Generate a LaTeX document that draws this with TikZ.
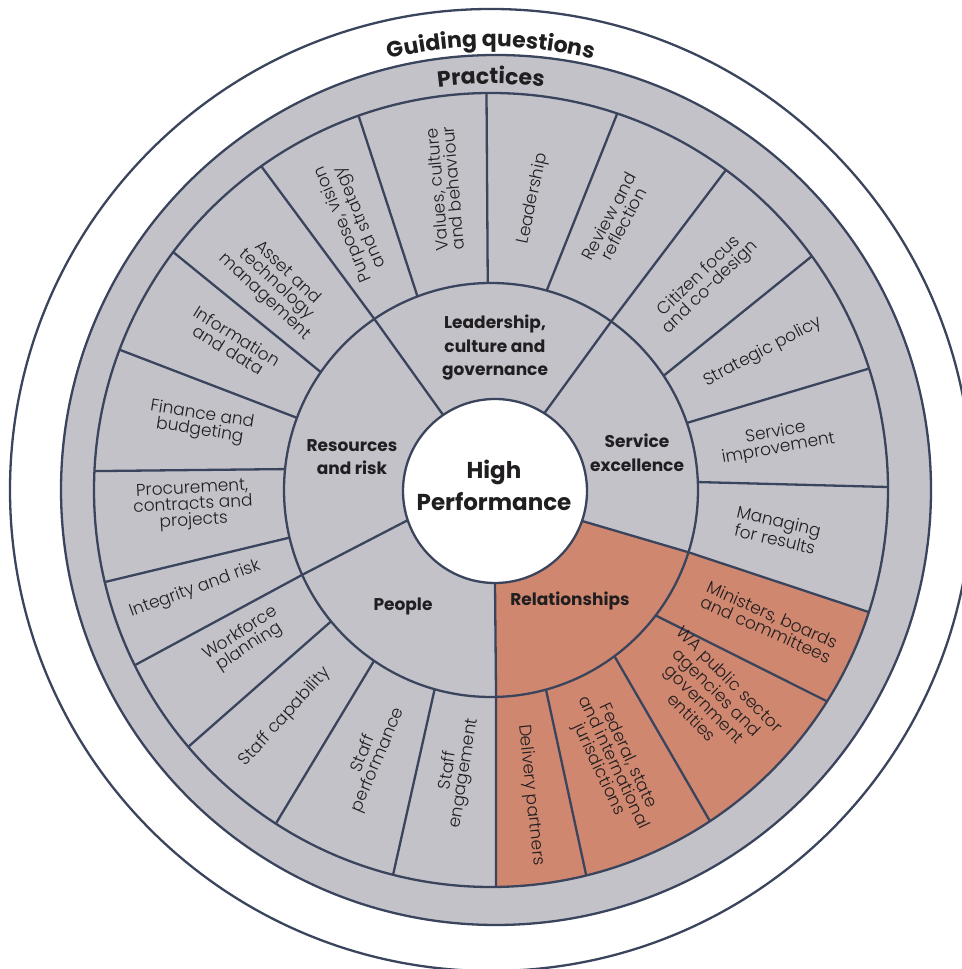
\documentclass[tikz,border=0pt]{standalone}
\usepackage{fontspec}
\setmainfont{Poppins}
\IfFontExistsTF{Poppins Light}{\newfontfamily\lightf{Poppins Light}}{\newfontfamily\lightf{Poppins}}
\usetikzlibrary{calc,decorations.text}
\definecolor{grayF}{RGB}{195,194,201}
\definecolor{lineC}{RGB}{58,68,92}
\definecolor{orangeF}{RGB}{208,135,111}
\definecolor{txtC}{RGB}{32,30,32}
\newcommand\pfont{\lightf\fontsize{17}{16}\selectfont}
\newcommand\cfont{\bfseries\fontsize{17}{23.5}\selectfont}
\newcommand\hfont{\bfseries\fontsize{23}{32}\selectfont}
\newcommand\gqfont{\bfseries\fontsize{22}{26}\selectfont}
\tikzset{
  ln/.style={draw=lineC, line width=2.3pt},
  prac/.style={font=\pfont, align=center, text=txtC, inner sep=0pt},
  cat/.style={font=\cfont, align=center, text=txtC, inner sep=0pt},
}
\begin{document}
\begin{tikzpicture}[x=1pt,y=1pt,line join=round]
\useasboundingbox (0,0) rectangle (961,969);
\coordinate (C) at (491,479);
\coordinate (W) at (495,478);
\coordinate (G) at (496,479);
% rings
\draw[ln] (C) circle[radius=481];
\filldraw[ln, fill=grayF] (G) circle[radius=435];
\fill[orangeF] ($(W)+(-19:92)$) -- ($(C)+(-17.5:207)$) -- ($(C)+(-17.91:397)$)
  arc[start angle=-17.91, end angle=-89.28, radius=397]
  -- ($(C)+(-88.6:207)$) -- ($(W)+(-90:92)$) -- (W) -- cycle;
\draw[ln] (C) circle[radius=397];
\draw[ln] (C) circle[radius=207];
% practice dividers
\foreach \a/\b in {90.9/90.65, 74.4/71.46, 54.5/53.72, 33.5/36.08, 18.9/17.81, 2.2/0.43,
  -17.5/-17.91, -37.3/-32.17, -53.4/-56.53, -74.6/-76.12, -88.6/-89.28, 254.2/255.72,
  235.6/237.18, 219.4/220.31, 204.2/206.19, 193.3/193.41, 174.2/177.27, 159.6/159.31,
  145.3/143.18, 124.3/125.36, 110.8/109.49}
  \draw[ln] ($(C)+(\a:207)$) -- ($(C)+(\b:397)$);
% category spokes
\foreach \a/\b in {124.3/124.3, 57.6/54.5, -19/-17.5, -90/-88.6, 198.5/204.2}
  \draw[ln] ($(W)+(\a:92)$) -- ($(C)+(\b:207)$);
\filldraw[ln, fill=white] (W) circle[radius=92];
% curved titles
\path[decorate, decoration={text along path, text={|\gqfont|Guiding questions}, text align=center, text color=txtC}]
  ($(C)+(160:443)$) arc[start angle=160, end angle=20, radius=443];
\path[decorate, decoration={text along path, text={|\gqfont|Practices}, text align=center, text color=txtC}]
  ($(C)+(160:406)$) arc[start angle=160, end angle=20, radius=406];
% centre
\node[cat, font=\hfont] (hp) at (494,484) {High\\Performance};
% categories
\node[cat] (c1) at (495,621) {Leadership,\\culture and\\governance};
\node[cat] (c2) at (637,516) {Service\\excellence};
\node[cat] (c3) at (570,368.5) {Relationships};
\node[cat] (c4) at (403,362.3) {People};
\node[cat] (c5) at (352,512) {Resources\\and risk};
% practices
\node[prac, rotate=95] (l1) at (445,780) {Values, culture\\and behaviour};
\node[prac, rotate=78] (l2) at (533,770) {Leadership};
\node[prac, rotate=62] (l3) at (616,749) {Review and\\reflection};
\node[prac, rotate=44] (l4) at (705,687) {Citizen focus\\and co-design};
\node[prac, rotate=28] (l5) at (763,617) {Strategic policy};
\node[prac, rotate=10] (l6) at (777,528) {Service\\improvement};
\node[prac, rotate=-13] (l7) at (777,439) {Managing\\for results};
\node[prac, rotate=-24] (l8) at (769,347) {Ministers, boards\\and committees};
\node[prac, rotate=-45] (l9) at (711,271) {WA public sector\\agencies and\\government\\entities};
\node[prac, rotate=-65] (l10) at (613,206) {Federal, state\\and international\\jurisdictions};
\node[prac, rotate=-84] (l11) at (531,174) {Delivery partners};
\node[prac, rotate=81] (l12) at (456.5,197) {Staff\\engagement};
\node[prac, rotate=67] (l13) at (371,212) {Staff\\performance};
\node[prac, rotate=48] (l14) at (285,252) {Staff capability};
\node[prac, rotate=33] (l15) at (245,329) {Workforce\\planning};
\node[prac, rotate=20] (l16) at (195,379.5) {Integrity and risk};
\node[prac, rotate=3] (l17) at (193,463.5) {Procurement,\\contracts and\\projects};
\node[prac, rotate=-9] (l18) at (201,546) {Finance and\\budgeting};
\node[prac, rotate=-32] (l19) at (233,626) {Information\\and data};
\node[prac, rotate=-43] (l20) at (276,684) {Asset and\\technology\\management};
\node[prac, rotate=113] (l21) at (352,748.4) {Purpose, vision\\and strategy};
\end{tikzpicture}
\end{document}
